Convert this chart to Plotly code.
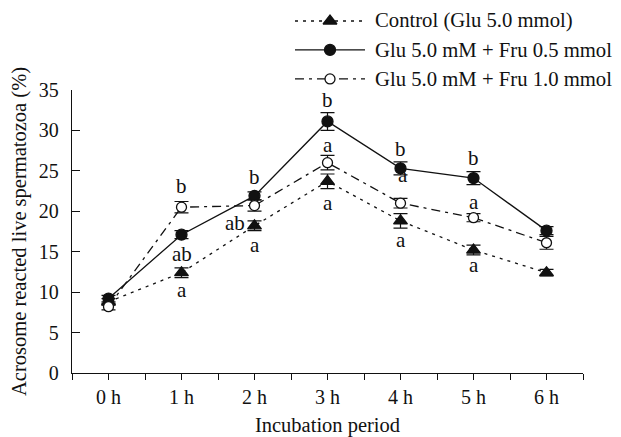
import plotly.graph_objects as go

# ---- data ----
hours = [0, 1, 2, 3, 4, 5, 6]
hour_labels = ["0 h", "1 h", "2 h", "3 h", "4 h", "5 h", "6 h"]

control = [8.8, 12.4, 18.2, 23.7, 18.8, 15.2, 12.4]
control_err = [0.4, 0.6, 0.6, 0.9, 0.9, 0.6, 0.4]

fru05 = [9.2, 17.1, 21.9, 31.1, 25.3, 24.1, 17.6]
fru05_err = [0.4, 0.5, 0.5, 1.1, 0.8, 0.8, 0.5]

fru10 = [8.2, 20.5, 20.7, 26.0, 21.0, 19.2, 16.1]
fru10_err = [0.4, 0.7, 0.7, 0.9, 0.6, 0.5, 0.8]

series_names = ["Control (Glu 5.0 mmol)",
                "Glu 5.0 mM + Fru 0.5 mmol",
                "Glu 5.0 mM + Fru 1.0 mmol"]

# significance letters: (hour, y value, text)
letter_x = [1, 1, 1, 1.73, 2, 2, 3, 3, 3, 4, 4.04, 4, 5, 5, 5]
letter_y = [23.1, 14.7, 10.3, 18.5, 24.2, 15.8, 33.7, 28.2, 21.0,
            27.7, 24.5, 16.4, 26.6, 21.2, 13.3]
letter_t = ["b", "ab", "a", "ab", "b", "a", "b", "a", "a",
            "b", "a", "a", "b", "a", "a"]

FONT = "Liberation Serif"
BLACK = "#111111"

styles = [
    dict(dash="3px,5px", symbol="triangle-up", fill=BLACK, size=12),
    dict(dash="solid", symbol="circle", fill=BLACK, size=11),
    dict(dash="9px,5px,3px,5px", symbol="circle", fill="white", size=10),
]
values = [control, fru05, fru10]
errors = [control_err, fru05_err, fru10_err]

fig = go.Figure()

for name, vals, errs, st in zip(series_names, values, errors, styles):
    fig.add_trace(go.Scatter(
        x=hours, y=vals, mode="lines+markers", name=name,
        line=dict(color=BLACK, width=1.3, dash=st["dash"]),
        marker=dict(symbol=st["symbol"], size=st["size"], color=st["fill"],
                    line=dict(color=BLACK, width=1.3)),
        error_y=dict(type="data", array=errs, visible=True,
                     color=BLACK, thickness=1.2, width=7),
        showlegend=False,
    ))

# page has an 8px body margin; figure is sized to fill the rest of the window
OFF = 8
W, H = 621 - OFF, 437 - OFF
ml, mr, mt, mb = 72 - OFF, 38, 10 - OFF, 63.5
plot_h = H - mt - mb
main_top = (373.5 - 90) / plot_h

# manual legend (drawn on its own axes spanning the plot area, in page pixels)
legend_rows = [21, 50, 79]
legend_x0, legend_x1 = 295, 365
for name, row, st in zip(series_names, legend_rows, styles):
    fig.add_trace(go.Scatter(
        x=[legend_x0, legend_x1], y=[row, row], mode="lines",
        line=dict(color=BLACK, width=1.3, dash=st["dash"]),
        xaxis="x3", yaxis="y3", showlegend=False, hoverinfo="skip"))
    fig.add_trace(go.Scatter(
        x=[(legend_x0 + legend_x1) / 2], y=[row], mode="markers",
        marker=dict(symbol=st["symbol"], size=st["size"], color=st["fill"],
                    line=dict(color=BLACK, width=1.3)),
        xaxis="x3", yaxis="y3", showlegend=False, hoverinfo="skip"))
    fig.add_annotation(x=legend_x1, y=row, xref="x3", yref="y3", text=name,
                       showarrow=False, xanchor="left", yanchor="middle",
                       xshift=8, font=dict(family=FONT, size=20.7, color=BLACK))

for lx, ly, lt in zip(letter_x, letter_y, letter_t):
    fig.add_annotation(x=lx, y=ly, text=lt, showarrow=False,
                       font=dict(family=FONT, size=21, color=BLACK))

fig.update_layout(
    width=W, height=H,
    margin=dict(l=ml, r=mr, t=mt, b=mb),
    paper_bgcolor="white", plot_bgcolor="rgba(0,0,0,0)",
    font=dict(family=FONT, size=20, color=BLACK),
    xaxis=dict(
        range=[-0.5, 6.5], tickmode="array",
        tickvals=[-0.5, 0, 0.5, 1, 1.5, 2, 2.5, 3, 3.5, 4, 4.5, 5, 5.5, 6, 6.5],
        ticktext=["", "0 h", "", "1 h", "", "2 h", "", "3 h", "", "4 h", "",
                  "5 h", "", "6 h", ""],
        ticks="outside", ticklen=6, tickwidth=1.3, tickcolor=BLACK,
        showline=True, linecolor=BLACK, linewidth=1.3,
        showgrid=False, zeroline=False, automargin=False,
        title=dict(text="Incubation period", standoff=13,
                   font=dict(family=FONT, size=20.5)),
        domain=[0, 1], anchor="y",
    ),
    xaxis2=dict(
        range=[-0.5, 6.5], overlaying="x", anchor="y", side="bottom",
        tickvals=[0, 0.5, 1, 1.5, 2, 2.5, 3, 3.5, 4, 4.5, 5, 5.5, 6, 6.5],
        showticklabels=False, ticks="inside", ticklen=6, tickwidth=1.3,
        tickcolor=BLACK, showline=False, showgrid=False, zeroline=False,
        automargin=False,
    ),
    yaxis=dict(
        range=[0, 35], tickvals=[0, 5, 10, 15, 20, 25, 30, 35],
        ticks="inside", ticklen=8, tickwidth=1.3, tickcolor=BLACK,
        ticklabelstandoff=8,
        showline=True, linecolor=BLACK, linewidth=1.3,
        showgrid=False, zeroline=False, automargin=False,
        title=dict(text="Acrosome reacted live spermatozoa (%)", standoff=6,
                   font=dict(family=FONT, size=20.5)),
        domain=[0, main_top], anchor="x",
    ),
    xaxis3=dict(range=[ml + OFF, W - mr + OFF], visible=False, automargin=False,
                domain=[0, 1], anchor="y3", fixedrange=True),
    yaxis3=dict(range=[H - mb + OFF, mt + OFF], visible=False, automargin=False,
                domain=[0, 1], anchor="x3", fixedrange=True),
)

fig.write_html("out.html")
